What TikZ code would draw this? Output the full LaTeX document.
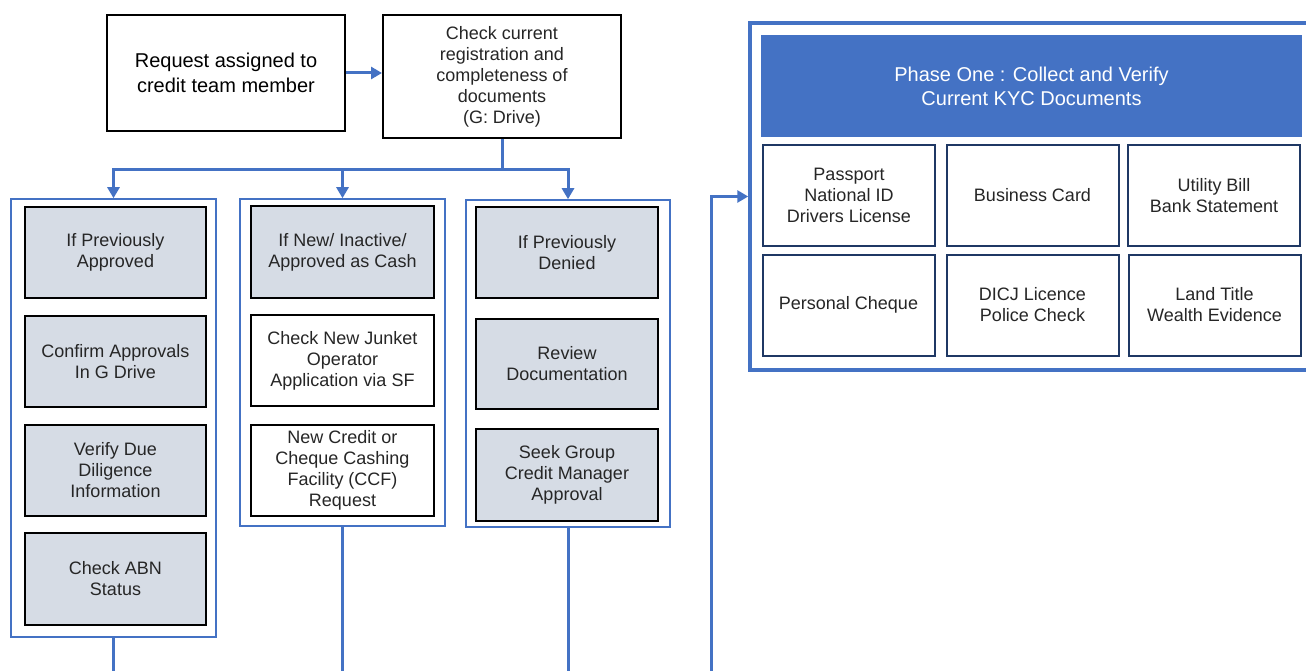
\documentclass[tikz,border=0pt]{standalone}
\usepackage{fontspec}
\setmainfont{Liberation Sans}
\usetikzlibrary{arrows.meta}
\definecolor{lineblue}{HTML}{4472C4}
\definecolor{boxgray}{HTML}{D6DCE5}
\definecolor{navy}{HTML}{1F3864}
\definecolor{txt}{HTML}{262626}
\begin{document}
\begin{tikzpicture}[x=1pt,y=-1pt,
  base/.style={align=center, inner sep=2pt, font=\fontsize{18}{21}\selectfont, text=txt},
  topbox/.style={base, draw=black, line width=2pt, fill=white, minimum width=238pt},
  graybox/.style={base, draw=black, line width=2pt, fill=boxgray, minimum height=91pt},
  whitebox/.style={base, draw=black, line width=2pt, fill=white, minimum height=91pt},
  container/.style={draw=lineblue, line width=1.6pt, minimum width=205pt},
  cell/.style={base, draw=navy, line width=2pt, fill=white, minimum width=172pt, minimum height=101pt},
  conn/.style={draw=lineblue, line width=3pt},
  arr/.style={conn, -{Triangle[length=11pt,width=12pt]}}
]
\useasboundingbox (0,0) rectangle (1306,671);
\clip (0,0) rectangle (1306,671);
\fill[white] (0,0) rectangle (1306,671);

% top boxes
\node[topbox, minimum height=116pt, text=black, font=\fontsize{20}{25.5}\selectfont] (req) at (226,73) {Request assigned to\\credit team member};
\node[topbox, minimum height=123pt] (chk) at (502,76.5) {Check current\\registration and\\completeness of\\documents\\(G: Drive)};

% containers
\node[container, minimum height=438pt] (g1) at (113.5,418) {};
\node[container, minimum height=327pt] (g2) at (342.5,362.5) {};
\node[container, minimum width=204pt, minimum height=327pt] (g3) at (568,363.5) {};

% group 1
\node[graybox, minimum width=181pt] (a1) at (115.5,252.5) {If Previously\\Approved};
\node[graybox, minimum width=181pt] (a2) at (115.5,361.5) {Confirm Approvals\\In G Drive};
\node[graybox, minimum width=181pt] (a3) at (115.5,470) {Verify Due\\Diligence\\Information};
\node[graybox, minimum width=181pt, minimum height=92pt] (a4) at (115.5,579) {Check ABN\\Status};

% group 2
\node[graybox, minimum width=183pt, minimum height=92pt] (b1) at (342.5,252) {If New/ Inactive/\\Approved as Cash};
\node[whitebox, minimum width=183pt] (b2) at (342.5,360.5) {Check New Junket\\Operator\\Application via SF};
\node[whitebox, minimum width=183pt] (b3) at (342.5,470.5) {New Credit or\\Cheque Cashing\\Facility (CCF)\\Request};

% group 3
\node[graybox, minimum width=182pt] (c1) at (567,252.5) {If Previously\\Denied};
\node[graybox, minimum width=182pt, minimum height=90pt] (c2) at (567,364) {Review\\Documentation};
\node[graybox, minimum width=182pt, minimum height=92pt] (c3) at (567,475) {Seek Group\\Credit Manager\\Approval};

% phase one panel
\node[draw=lineblue, line width=3.5pt, minimum width=564pt, minimum height=347pt] (outer) at (1032,196.5) {};
\node[fill=lineblue, minimum width=541pt, minimum height=102pt, text=white, align=center, font=\fontsize{20}{24}\selectfont] (hdr) at (1031.5,86) {Phase One : Collect and Verify\\Current KYC Documents};
\node[cell] (p1) at (849,195.5) {Passport\\National ID\\Drivers License};
\node[cell] (p2) at (1032.5,195.5) {Business Card};
\node[cell] (p3) at (1214,195.5) {Utility Bill\\Bank Statement};
\node[cell] (p4) at (848.5,305) {Personal Cheque};
\node[cell] (p5) at (1032.5,305) {DICJ Licence\\Police Check};
\node[cell] (p6) at (1214.5,305) {Land Title\\Wealth Evidence};

% connectors
\coordinate (j) at (502,170);
\coordinate (bottom) at (0,671);
\coordinate (lb) at (711,671);
\draw[arr] (req.east) -- (req.east -| chk.west);
\draw[conn] (chk.south) -- (j);
\draw[arr] (j) -| (g1.north);
\draw[arr] (j) -| (g3.north);
\draw[arr] (g2.north |- j) -- (g2.north);
\draw[conn] (g1.south) -- (g1.south |- bottom);
\draw[conn] (g2.south) -- (g2.south |- bottom);
\draw[conn] (g3.south) -- (g3.south |- bottom);
\draw[arr] (lb) |- (outer.west);
\end{tikzpicture}
\end{document}
